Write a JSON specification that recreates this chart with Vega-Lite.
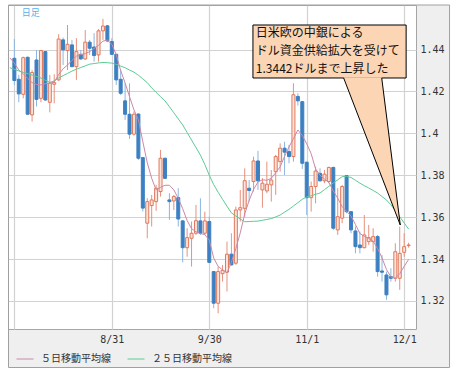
{
  "$schema": "https://vega.github.io/schema/vega-lite/v6.json",
  "width": 412,
  "height": 324,
  "autosize": {"type": "none"},
  "padding": {"left": 4, "top": 5, "right": 43, "bottom": 45},
  "background": "#efefef",
  "config": {
    "view": {"fill": "#ffffff", "stroke": "#a6a6a6", "strokeWidth": 1},
    "axis": {"gridColor": "#d2d2d2", "gridWidth": 1.2, "ticks": false, "domain": false, "labelFont": "DejaVu Sans Mono", "labelFontSize": 10, "labelColor": "#333333"}
  },
  "datasets": {
    "ohlc": [
      {"i":0,"o":1.4358,"h":1.4450,"l":1.4231,"c":1.4252},
      {"i":1,"o":1.4258,"h":1.4279,"l":1.4148,"c":1.4188},
      {"i":2,"o":1.4186,"h":1.4366,"l":1.4167,"c":1.4361},
      {"i":3,"o":1.4363,"h":1.4366,"l":1.4088,"c":1.4091},
      {"i":4,"o":1.4088,"h":1.4302,"l":1.4056,"c":1.4290},
      {"i":5,"o":1.4350,"h":1.4398,"l":1.4128,"c":1.4162},
      {"i":6,"o":1.4167,"h":1.4398,"l":1.4148,"c":1.4395},
      {"i":7,"o":1.4390,"h":1.4393,"l":1.4155,"c":1.4159},
      {"i":8,"o":1.4148,"h":1.4279,"l":1.4100,"c":1.4239},
      {"i":9,"o":1.4234,"h":1.4282,"l":1.4143,"c":1.4242},
      {"i":10,"o":1.4255,"h":1.4473,"l":1.4250,"c":1.4450},
      {"i":11,"o":1.4446,"h":1.4457,"l":1.4326,"c":1.4398},
      {"i":12,"o":1.4395,"h":1.4517,"l":1.4302,"c":1.4425},
      {"i":13,"o":1.4422,"h":1.4446,"l":1.4315,"c":1.4318},
      {"i":14,"o":1.4318,"h":1.4454,"l":1.4255,"c":1.4390},
      {"i":15,"o":1.4377,"h":1.4398,"l":1.4350,"c":1.4355},
      {"i":16,"o":1.4355,"h":1.4493,"l":1.4350,"c":1.4435},
      {"i":17,"o":1.4435,"h":1.4446,"l":1.4374,"c":1.4406},
      {"i":18,"o":1.4412,"h":1.4478,"l":1.4342,"c":1.4371},
      {"i":19,"o":1.4374,"h":1.4498,"l":1.4342,"c":1.4489},
      {"i":20,"o":1.4489,"h":1.4546,"l":1.4446,"c":1.4512},
      {"i":21,"o":1.4513,"h":1.4517,"l":1.4435,"c":1.4441},
      {"i":22,"o":1.4438,"h":1.4454,"l":1.4374,"c":1.4377},
      {"i":23,"o":1.4377,"h":1.4380,"l":1.4231,"c":1.4255},
      {"i":24,"o":1.4258,"h":1.4302,"l":1.4183,"c":1.4191},
      {"i":25,"o":1.4155,"h":1.4239,"l":1.4064,"c":1.4091},
      {"i":26,"o":1.4091,"h":1.4239,"l":1.3973,"c":1.3996},
      {"i":27,"o":1.3996,"h":1.4104,"l":1.3989,"c":1.4091},
      {"i":28,"o":1.4092,"h":1.4095,"l":1.3873,"c":1.3881},
      {"i":29,"o":1.3884,"h":1.3887,"l":1.3627,"c":1.3643},
      {"i":30,"o":1.3571,"h":1.3690,"l":1.3499,"c":1.3674},
      {"i":31,"o":1.3655,"h":1.3706,"l":1.3555,"c":1.3682},
      {"i":32,"o":1.3674,"h":1.3754,"l":1.3630,"c":1.3738},
      {"i":33,"o":1.3722,"h":1.3921,"l":1.3698,"c":1.3881},
      {"i":34,"o":1.3881,"h":1.3884,"l":1.3782,"c":1.3785},
      {"i":35,"o":1.3682,"h":1.3714,"l":1.3587,"c":1.3674},
      {"i":36,"o":1.3677,"h":1.3706,"l":1.3634,"c":1.3698},
      {"i":37,"o":1.3693,"h":1.3738,"l":1.3555,"c":1.3591},
      {"i":38,"o":1.3582,"h":1.3585,"l":1.3384,"c":1.3454},
      {"i":39,"o":1.3454,"h":1.3547,"l":1.3411,"c":1.3502},
      {"i":40,"o":1.3499,"h":1.3579,"l":1.3364,"c":1.3523},
      {"i":41,"o":1.3523,"h":1.3658,"l":1.3515,"c":1.3583},
      {"i":42,"o":1.3582,"h":1.3690,"l":1.3515,"c":1.3523},
      {"i":43,"o":1.3523,"h":1.3626,"l":1.3515,"c":1.3582},
      {"i":44,"o":1.3579,"h":1.3602,"l":1.3380,"c":1.3384},
      {"i":45,"o":1.3340,"h":1.3343,"l":1.3165,"c":1.3189},
      {"i":46,"o":1.3189,"h":1.3364,"l":1.3141,"c":1.3340},
      {"i":47,"o":1.3330,"h":1.3372,"l":1.3292,"c":1.3346},
      {"i":48,"o":1.3337,"h":1.3483,"l":1.3245,"c":1.3423},
      {"i":49,"o":1.3423,"h":1.3523,"l":1.3369,"c":1.3372},
      {"i":50,"o":1.3380,"h":1.3650,"l":1.3372,"c":1.3634},
      {"i":51,"o":1.3634,"h":1.3730,"l":1.3579,"c":1.3645},
      {"i":52,"o":1.3642,"h":1.3833,"l":1.3602,"c":1.3774},
      {"i":53,"o":1.3738,"h":1.3777,"l":1.3674,"c":1.3727},
      {"i":54,"o":1.3770,"h":1.3889,"l":1.3722,"c":1.3868},
      {"i":55,"o":1.3868,"h":1.3916,"l":1.3730,"c":1.3773},
      {"i":56,"o":1.3730,"h":1.3786,"l":1.3645,"c":1.3762},
      {"i":57,"o":1.3725,"h":1.3865,"l":1.3714,"c":1.3757},
      {"i":58,"o":1.3754,"h":1.3825,"l":1.3674,"c":1.3777},
      {"i":59,"o":1.3817,"h":1.3897,"l":1.3706,"c":1.3889},
      {"i":60,"o":1.3865,"h":1.3952,"l":1.3817,"c":1.3929},
      {"i":61,"o":1.3929,"h":1.3960,"l":1.3801,"c":1.3910},
      {"i":62,"o":1.3913,"h":1.3945,"l":1.3857,"c":1.3889},
      {"i":63,"o":1.3889,"h":1.4239,"l":1.3865,"c":1.4184},
      {"i":64,"o":1.4176,"h":1.4191,"l":1.4132,"c":1.4155},
      {"i":65,"o":1.4151,"h":1.4154,"l":1.3830,"c":1.3857},
      {"i":66,"o":1.3862,"h":1.3865,"l":1.3610,"c":1.3693},
      {"i":67,"o":1.3693,"h":1.3770,"l":1.3626,"c":1.3746},
      {"i":68,"o":1.3746,"h":1.3841,"l":1.3666,"c":1.3820},
      {"i":69,"o":1.3809,"h":1.3833,"l":1.3770,"c":1.3773},
      {"i":70,"o":1.3773,"h":1.3825,"l":1.3762,"c":1.3805},
      {"i":71,"o":1.3770,"h":1.3841,"l":1.3762,"c":1.3837},
      {"i":72,"o":1.3837,"h":1.3841,"l":1.3539,"c":1.3547},
      {"i":73,"o":1.3539,"h":1.3738,"l":1.3515,"c":1.3602},
      {"i":74,"o":1.3595,"h":1.3754,"l":1.3571,"c":1.3746},
      {"i":75,"o":1.3798,"h":1.3801,"l":1.3618,"c":1.3626},
      {"i":76,"o":1.3626,"h":1.3629,"l":1.3523,"c":1.3539},
      {"i":77,"o":1.3534,"h":1.3555,"l":1.3427,"c":1.3459},
      {"i":78,"o":1.3467,"h":1.3531,"l":1.3427,"c":1.3454},
      {"i":79,"o":1.3454,"h":1.3610,"l":1.3451,"c":1.3515},
      {"i":80,"o":1.3483,"h":1.3563,"l":1.3467,"c":1.3502},
      {"i":81,"o":1.3483,"h":1.3547,"l":1.3435,"c":1.3507},
      {"i":82,"o":1.3507,"h":1.3515,"l":1.3316,"c":1.3340},
      {"i":83,"o":1.3343,"h":1.3419,"l":1.3292,"c":1.3337},
      {"i":84,"o":1.3324,"h":1.3340,"l":1.3205,"c":1.3229},
      {"i":85,"o":1.3316,"h":1.3356,"l":1.3292,"c":1.3308},
      {"i":86,"o":1.3308,"h":1.3475,"l":1.3292,"c":1.3435},
      {"i":87,"o":1.3308,"h":1.3555,"l":1.3253,"c":1.3427},
      {"i":88,"o":1.3432,"h":1.3523,"l":1.3411,"c":1.3459},
      {"i":89,"o":1.3464,"h":1.3478,"l":1.3454,"c":1.3467}
    ],
    "ma": [
      {"i":-1,"m5":1.4360,"m25":1.4313},
      {"i":0,"m5":1.4335,"m25":1.4305},
      {"i":1,"m5":1.4302,"m25":1.4298},
      {"i":2,"m5":1.4284,"m25":1.4291},
      {"i":3,"m5":1.4262,"m25":1.4285},
      {"i":4,"m5":1.4242,"m25":1.4278},
      {"i":5,"m5":1.4233,"m25":1.4271},
      {"i":6,"m5":1.4231,"m25":1.4264},
      {"i":7,"m5":1.4237,"m25":1.4253},
      {"i":8,"m5":1.4239,"m25":1.4243},
      {"i":9,"m5":1.4245,"m25":1.4250},
      {"i":10,"m5":1.4280,"m25":1.4264},
      {"i":11,"m5":1.4308,"m25":1.4275},
      {"i":12,"m5":1.4326,"m25":1.4286},
      {"i":13,"m5":1.4348,"m25":1.4297},
      {"i":14,"m5":1.4368,"m25":1.4306},
      {"i":15,"m5":1.4376,"m25":1.4314},
      {"i":16,"m5":1.4380,"m25":1.4322},
      {"i":17,"m5":1.4390,"m25":1.4330},
      {"i":18,"m5":1.4405,"m25":1.4333},
      {"i":19,"m5":1.4420,"m25":1.4336},
      {"i":20,"m5":1.4440,"m25":1.4338},
      {"i":21,"m5":1.4445,"m25":1.4337},
      {"i":22,"m5":1.4425,"m25":1.4335},
      {"i":23,"m5":1.4375,"m25":1.4329},
      {"i":24,"m5":1.4300,"m25":1.4321},
      {"i":25,"m5":1.4240,"m25":1.4313},
      {"i":26,"m5":1.4175,"m25":1.4302},
      {"i":27,"m5":1.4112,"m25":1.4292},
      {"i":28,"m5":1.4065,"m25":1.4277},
      {"i":29,"m5":1.3960,"m25":1.4260},
      {"i":30,"m5":1.3860,"m25":1.4242},
      {"i":31,"m5":1.3785,"m25":1.4217},
      {"i":32,"m5":1.3730,"m25":1.4195},
      {"i":33,"m5":1.3742,"m25":1.4175},
      {"i":34,"m5":1.3752,"m25":1.4155},
      {"i":35,"m5":1.3752,"m25":1.4127},
      {"i":36,"m5":1.3730,"m25":1.4098},
      {"i":37,"m5":1.3690,"m25":1.4069},
      {"i":38,"m5":1.3640,"m25":1.4040},
      {"i":39,"m5":1.3584,"m25":1.4004},
      {"i":40,"m5":1.3545,"m25":1.3968},
      {"i":41,"m5":1.3530,"m25":1.3932},
      {"i":42,"m5":1.3522,"m25":1.3896},
      {"i":43,"m5":1.3516,"m25":1.3851},
      {"i":44,"m5":1.3490,"m25":1.3800},
      {"i":45,"m5":1.3405,"m25":1.3755},
      {"i":46,"m5":1.3365,"m25":1.3719},
      {"i":47,"m5":1.3348,"m25":1.3685},
      {"i":48,"m5":1.3334,"m25":1.3652},
      {"i":49,"m5":1.3385,"m25":1.3620},
      {"i":50,"m5":1.3450,"m25":1.3605},
      {"i":51,"m5":1.3525,"m25":1.3591},
      {"i":52,"m5":1.3615,"m25":1.3578},
      {"i":53,"m5":1.3680,"m25":1.3579},
      {"i":54,"m5":1.3732,"m25":1.3580},
      {"i":55,"m5":1.3768,"m25":1.3581},
      {"i":56,"m5":1.3778,"m25":1.3585},
      {"i":57,"m5":1.3776,"m25":1.3589},
      {"i":58,"m5":1.3785,"m25":1.3593},
      {"i":59,"m5":1.3812,"m25":1.3601},
      {"i":60,"m5":1.3840,"m25":1.3610},
      {"i":61,"m5":1.3890,"m25":1.3624},
      {"i":62,"m5":1.3935,"m25":1.3637},
      {"i":63,"m5":1.3975,"m25":1.3653},
      {"i":64,"m5":1.4016,"m25":1.3669},
      {"i":65,"m5":1.3990,"m25":1.3685},
      {"i":66,"m5":1.3950,"m25":1.3696},
      {"i":67,"m5":1.3903,"m25":1.3702},
      {"i":68,"m5":1.3830,"m25":1.3709},
      {"i":69,"m5":1.3800,"m25":1.3715},
      {"i":70,"m5":1.3782,"m25":1.3731},
      {"i":71,"m5":1.3765,"m25":1.3747},
      {"i":72,"m5":1.3725,"m25":1.3763},
      {"i":73,"m5":1.3690,"m25":1.3778},
      {"i":74,"m5":1.3650,"m25":1.3793},
      {"i":75,"m5":1.3628,"m25":1.3795},
      {"i":76,"m5":1.3605,"m25":1.3789},
      {"i":77,"m5":1.3565,"m25":1.3776},
      {"i":78,"m5":1.3522,"m25":1.3762},
      {"i":79,"m5":1.3508,"m25":1.3750},
      {"i":80,"m5":1.3498,"m25":1.3739},
      {"i":81,"m5":1.3485,"m25":1.3727},
      {"i":82,"m5":1.3450,"m25":1.3715},
      {"i":83,"m5":1.3405,"m25":1.3698},
      {"i":84,"m5":1.3350,"m25":1.3682},
      {"i":85,"m5":1.3315,"m25":1.3659},
      {"i":86,"m5":1.3308,"m25":1.3630},
      {"i":87,"m5":1.3330,"m25":1.3602},
      {"i":88,"m5":1.3365,"m25":1.3572},
      {"i":89,"m5":1.3398,"m25":1.3543}
    ],
    "pointer": [
      {"px":74.34,"top":1.4268,"bot":1.4268},
      {"px":82.93,"top":1.4268,"bot":1.37924},
      {"px":87.12,"top":1.35623,"bot":1.35623}
    ],
    "pointerEdge": [
      {"px":74.34,"py":1.4264,"k":0},
      {"px":87.12,"py":1.35623,"k":1},
      {"px":82.93,"py":1.4264,"k":2}
    ],
    "one": [{}]
  },
  "layer": [
    {
      "data": {"name": "ohlc"},
      "mark": {"type": "rule", "strokeWidth": 1},
      "encoding": {
        "x": {"field": "i", "type": "quantitative", "title": null, "scale": {"domain": [-1.21, 89.54], "nice": false, "zero": false},
              "axis": {"orient": "bottom", "title": null, "values": [0, 22, 44, 66, 88], "grid": true, "labelFlush": false, "labelPadding": 5,
                       "labelExpr": "datum.value == 22 ? '8/31' : datum.value == 44 ? '9/30' : datum.value == 66 ? '11/1' : datum.value == 88 ? '12/1' : ''"}},
        "y": {"field": "l", "type": "quantitative", "title": null, "scale": {"domain": [1.3066, 1.46124], "nice": false, "zero": false},
              "axis": {"orient": "right", "title": null, "values": [1.32, 1.34, 1.36, 1.38, 1.4, 1.42, 1.44], "format": "~g", "grid": true, "labelPadding": 4, "labelAlign": "left", "labelBaseline": "middle"}},
        "y2": {"field": "h"},
        "color": {"condition": {"test": "datum.c >= datum.o", "value": "#e8907c"}, "value": "#8cb6e0"}
      }
    },
    {
      "data": {"name": "ohlc"},
      "mark": {"type": "bar", "size": 3, "strokeWidth": 1},
      "encoding": {
        "x": {"field": "i", "type": "quantitative", "title": null},
        "y": {"field": "o", "type": "quantitative", "title": null},
        "y2": {"field": "c"},
        "fill": {"condition": {"test": "datum.c >= datum.o", "value": "#fde3d9"}, "value": "#3d80c2"},
        "stroke": {"condition": {"test": "datum.c >= datum.o", "value": "#e0785c"}, "value": "#3d80c2"}
      }
    },
    {
      "data": {"name": "ma"},
      "mark": {"type": "line", "strokeWidth": 1},
      "encoding": {
        "x": {"field": "i", "type": "quantitative", "title": null},
        "y": {"field": "m25", "type": "quantitative", "title": null},
        "color": {"datum": "２５日移動平均線", "type": "nominal",
                  "scale": {"domain": ["５日移動平均線", "２５日移動平均線"], "range": ["#cc88a8", "#5ccc95"]},
                  "legend": {"title": null, "orient": "none", "legendX": 12, "legendY": 345, "direction": "horizontal", "padding": 0,
                             "symbolType": "stroke", "symbolSize": 289, "symbolStrokeWidth": 1, "labelOffset": 7, "columnPadding": 14,
                             "labelFont": "Noto Sans CJK JP", "labelFontSize": 10, "labelColor": "#333333"}}
      }
    },
    {
      "data": {"name": "ma"},
      "mark": {"type": "line", "strokeWidth": 1},
      "encoding": {
        "x": {"field": "i", "type": "quantitative", "title": null},
        "y": {"field": "m5", "type": "quantitative", "title": null},
        "color": {"datum": "５日移動平均線", "type": "nominal"}
      }
    },
    {
      "data": {"name": "one"},
      "mark": {"type": "rect", "fill": "#ffffff", "strokeWidth": 0},
      "encoding": {
        "x": {"datum": -6, "type": "quantitative", "title": null},
        "x2": {"datum": -1.32},
        "y": {"datum": 1.2, "type": "quantitative", "title": null},
        "y2": {"datum": 1.5}
      }
    },
    {
      "data": {"name": "one"},
      "mark": {"type": "rect", "fill": "#ffffff", "strokeWidth": 0},
      "encoding": {
        "x": {"datum": 98.24, "type": "quantitative", "title": null},
        "x2": {"datum": 105},
        "y": {"datum": 1.2, "type": "quantitative", "title": null},
        "y2": {"datum": 1.5}
      }
    },
    {
      "data": {"name": "one"},
      "mark": {"type": "rect", "fill": "#ffffff", "strokeWidth": 0},
      "encoding": {
        "x": {"datum": -6, "type": "quantitative", "title": null},
        "x2": {"datum": 105},
        "y": {"datum": 1.46124, "type": "quantitative", "title": null},
        "y2": {"datum": 1.5}
      }
    },
    {
      "data": {"name": "one"},
      "mark": {"type": "rect", "fill": "#ffffff", "strokeWidth": 0},
      "encoding": {
        "x": {"datum": -6, "type": "quantitative", "title": null},
        "x2": {"datum": 105},
        "y": {"datum": 1.2, "type": "quantitative", "title": null},
        "y2": {"datum": 1.28822}
      }
    },
    {
      "data": {"name": "one"},
      "mark": {"type": "rect", "fill": "transparent", "stroke": "#a0a0a0", "strokeWidth": 1},
      "encoding": {
        "x": {"datum": -1.32, "type": "quantitative", "title": null},
        "x2": {"datum": 98.24},
        "y": {"datum": 1.28822, "type": "quantitative", "title": null},
        "y2": {"datum": 1.46124}
      }
    },
    {
      "data": {"name": "one"},
      "mark": {"type": "rect", "fill": "#fcd5b4", "stroke": "#000000", "strokeWidth": 1},
      "encoding": {
        "x": {"datum": 53.86, "type": "quantitative", "title": null},
        "x2": {"datum": 88.44},
        "y": {"datum": 1.4264, "type": "quantitative", "title": null},
        "y2": {"datum": 1.45169}
      }
    },
    {
      "data": {"name": "pointer"},
      "mark": {"type": "area", "fill": "#fcd5b4", "opacity": 1},
      "encoding": {
        "x": {"field": "px", "type": "quantitative", "title": null},
        "y": {"field": "top", "type": "quantitative", "title": null},
        "y2": {"field": "bot"}
      }
    },
    {
      "data": {"name": "pointerEdge"},
      "mark": {"type": "line", "stroke": "#000000", "strokeWidth": 1},
      "encoding": {
        "x": {"field": "px", "type": "quantitative", "title": null},
        "y": {"field": "py", "type": "quantitative", "title": null},
        "order": {"field": "k", "type": "quantitative"}
      }
    },
    {
      "data": {"name": "one"},
      "mark": {"type": "text", "align": "left", "baseline": "middle", "font": "Noto Sans CJK JP", "fontSize": 12, "lineHeight": 18, "color": "#111111"},
      "encoding": {
        "x": {"datum": 54.52, "type": "quantitative", "title": null},
        "y": {"datum": 1.44788, "type": "quantitative", "title": null},
        "text": {"value": ["日米欧の中銀による", "ドル資金供給拡大を受けて", "1.3442ドルまで上昇した"]}
      }
    },
    {
      "data": {"name": "one"},
      "mark": {"type": "text", "align": "left", "baseline": "middle", "font": "Noto Sans CJK JP", "fontSize": 9, "color": "#5ab0e8"},
      "encoding": {
        "x": {"datum": 1.65, "type": "quantitative", "title": null},
        "y": {"datum": 1.4574, "type": "quantitative", "title": null},
        "text": {"value": "日足"}
      }
    }
  ]
}
